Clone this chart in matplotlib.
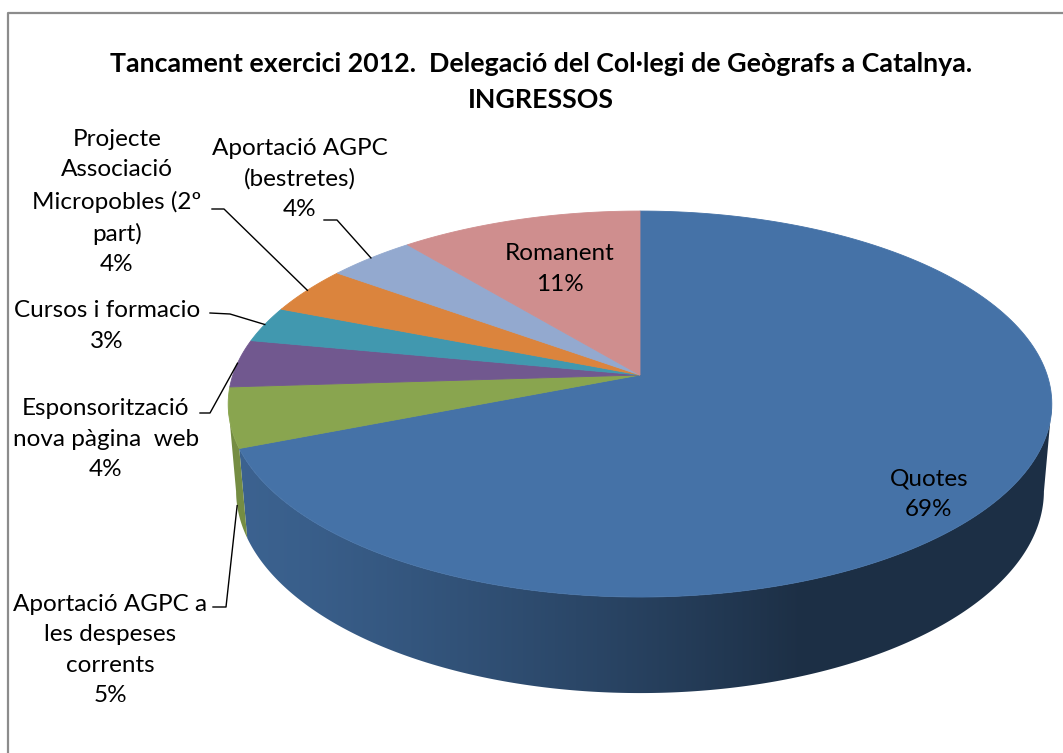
import numpy as np
import matplotlib
matplotlib.use("Agg")
import matplotlib.pyplot as plt

## data
categories = ["Quotes", "Aportació AGPC a\nles despeses\ncorrents",
              "Esponsorització\nnova pàgina  web", "Cursos i formacio",
              "Projecte\nAssociació\nMicropobles (2º\npart)",
              "Aportació AGPC\n(bestretes)", "Romanent"]
values = [69, 5, 4, 3, 4, 4, 11]
title = "Tancament exercici 2012.  Delegació del Col·legi de Geògrafs a Catalnya.\nINGRESSOS"

## style
colors = ["#4572A7", "#89A54F", "#71588F", "#4198AF", "#DB843D", "#93A9CF", "#CF8E8E"]
# label block centre, leader start (None = no leader), anchor height on the wall
label_pos = [(929, 494), (110, 650), (106, 439), (107, 326), (117, 202), (300, 179), (560, 269)]
leader_start = [None, (213, 607), (200, 413), (210, 313), (212, 209), (324, 220), None]
leader_knee = [None, (226, 607), (210, 413), (230, 314), (224, 209), (337, 220), None]
anchor_z = [0, -1.0, 0, 0, 0, 0, 0]

## 3d pie projection (pixel space)
cx, cy = 640, 375
cam_d = 5.89
tilt = np.radians(27.6)
focal = 2398
height = 0.243


def project(theta_deg, z=0.0):
    t = np.radians(theta_deg)
    X, Y = np.sin(t), np.cos(t)
    c, s = np.cos(tilt), np.sin(tilt)
    depth = Y * c - z * s + cam_d
    return cx + focal * X / depth, cy - focal * (Y * s + z * c) / depth


def shade(col, theta):
    f = 0.415 + 0.445 * np.clip(np.cos(np.radians(theta - 250)), 0, None)
    rgb = np.array(matplotlib.colors.to_rgb(col))
    return np.outer(f, rgb)


fig = plt.figure(figsize=(10.63, 7.53), dpi=100)
ax = fig.add_axes([0, 0, 1, 1])

fracs = np.array(values) / np.sum(values)
bounds = np.concatenate([[0], np.cumsum(fracs)]) * 360

## silhouette of the side wall
sil = np.degrees(np.arccos(-np.cos(tilt) / cam_d))
sil_lo, sil_hi = sil, 360 - sil
th = np.linspace(sil_lo, sil_hi, 3000)
px_mid = project(th, -height / 2)[0]
xcols = np.arange(200, 1064)
theta_of_x = np.interp(xcols, px_mid[::-1], th[::-1])

## side walls with horizontal gradient
for i in range(len(values)):
    a0, a1 = max(bounds[i], sil_lo), min(bounds[i + 1], sil_hi)
    if a1 <= a0:
        continue
    ts = np.linspace(a0, a1, 300)
    top = [project(t) for t in ts]
    bot = [project(t, -height) for t in ts[::-1]]
    poly = plt.Polygon(top + bot, closed=True, facecolor="none", edgecolor="none")
    ax.add_patch(poly)
    grad = shade(colors[i], theta_of_x)[np.newaxis, :, :]
    im = ax.imshow(grad, extent=(xcols[0] - 0.5, xcols[-1] + 0.5, 720, 180),
                   aspect="auto", interpolation="bilinear", zorder=1)
    im.set_clip_path(poly)

## top faces
for i in range(len(values)):
    ts = np.linspace(bounds[i], bounds[i + 1], 200)
    pts = [(cx, cy)] + [project(t) for t in ts]
    ax.add_patch(plt.Polygon(pts, closed=True, facecolor=colors[i], edgecolor=colors[i],
                             lw=0.6, zorder=2))

## labels
for i, lab in enumerate(categories):
    txt = "%s\n%d%%" % (lab, round(fracs[i] * 100))
    ax.text(label_pos[i][0], label_pos[i][1], txt, ha="center", va="center", multialignment="center",
            fontsize=17.5, family="Lato", linespacing=1.55, color="black", zorder=4)
    if leader_start[i] is not None:
        mid = (bounds[i] + bounds[i + 1]) / 2
        ex, ey = project(mid, anchor_z[i] * height)
        xs = [leader_start[i][0], leader_knee[i][0], ex]
        ys = [leader_start[i][1], leader_knee[i][1], ey]
        ax.plot(xs, ys, color="black", lw=1.0, zorder=3)

ax.text(541, 82, title, ha="center", va="center", fontsize=19.3, family="Lato",
        fontweight="bold", linespacing=1.6, zorder=4)

## chart border
ax.plot([8, 8, 1063], [753, 13, 13], color="#8c8c8c", lw=1.6)

ax.set_xlim(0, 1063)
ax.set_ylim(753, 0)
ax.axis("off")

fig.savefig("out.png", dpi=100)
